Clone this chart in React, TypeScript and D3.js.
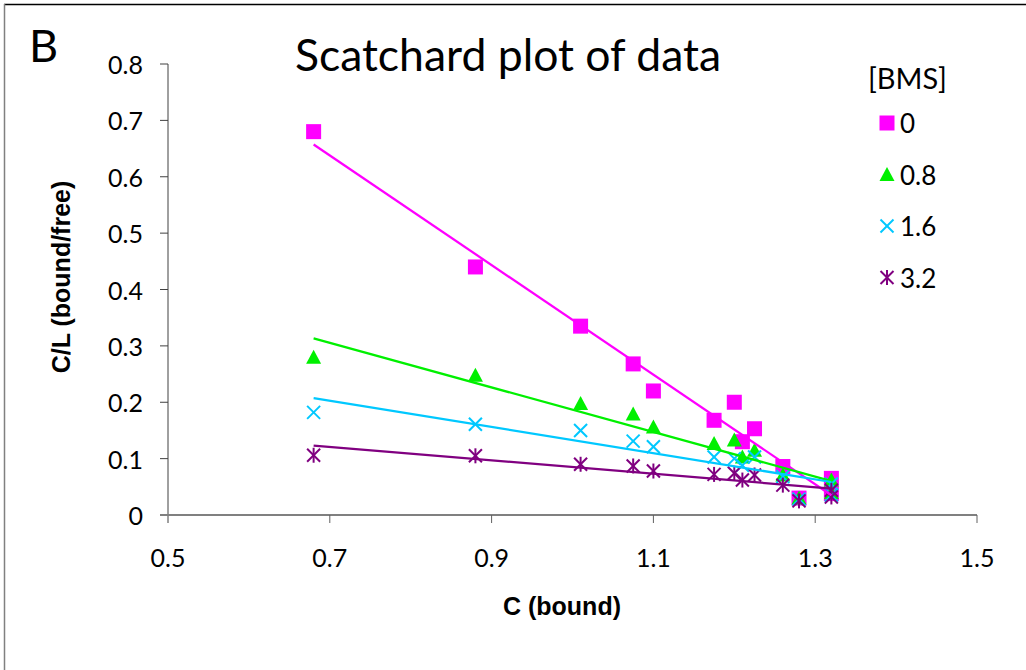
import React from "react";
import * as d3 from "d3";

const xValues = [0.68, 0.88, 1.01, 1.075, 1.1, 1.175, 1.2, 1.21, 1.225, 1.26, 1.28, 1.32, 1.32];
const bms0 = [0.68, 0.44, 0.335, 0.268, 0.22, 0.168, 0.2, 0.13, 0.153, 0.086, 0.03, 0.065, 0.038];
const bms08 = [0.28, 0.248, 0.198, 0.179, 0.156, 0.127, 0.133, 0.103, 0.115, 0.071, 0.03, 0.062, 0.04];
const bms16 = [0.182, 0.161, 0.15, 0.131, 0.121, 0.103, 0.1, 0.088, 0.103, 0.068, 0.028, 0.055, 0.035];
const bms32 = [0.106, 0.105, 0.09, 0.087, 0.078, 0.072, 0.074, 0.062, 0.071, 0.053, 0.025, 0.044, 0.032];

const seriesNames = ["0", "0.8", "1.6", "3.2"];
const seriesColors = ["#FF00FF", "#00F000", "#00C8FF", "#800080"];
const seriesShapes = ["square", "triangle", "x", "star"];
const seriesValues = [bms0, bms08, bms16, bms32];

const xTicks = [0.5, 0.7, 0.9, 1.1, 1.3, 1.5];
const yTicks = [0, 0.1, 0.2, 0.3, 0.4, 0.5, 0.6, 0.7, 0.8];

const W = 1026;
const H = 670;

const x = d3.scaleLinear().domain([0.5, 1.5]).range([168, 977]);
const y = d3.scaleLinear().domain([0, 0.8]).range([515, 64]);

function regression(xs: number[], ys: number[]) {
  const mx = d3.mean(xs) as number;
  const my = d3.mean(ys) as number;
  let num = 0;
  let den = 0;
  xs.forEach((xv, i) => {
    num += (xv - mx) * (ys[i] - my);
    den += (xv - mx) * (xv - mx);
  });
  const slope = num / den;
  const intercept = my - slope * mx;
  return (v: number) => intercept + slope * v;
}

function Marker({ shape, color, cx, cy }: { shape: string; color: string; cx: number; cy: number }) {
  if (shape === "square") {
    return <rect x={cx - 7.5} y={cy - 7.5} width={15} height={15} fill={color} />;
  }
  if (shape === "triangle") {
    const path = d3.path();
    path.moveTo(cx, cy - 7.5);
    path.lineTo(cx + 7.5, cy + 6.5);
    path.lineTo(cx - 7.5, cy + 6.5);
    path.closePath();
    return <path d={path.toString()} fill={color} />;
  }
  const r = 6.5;
  if (shape === "x") {
    return (
      <g stroke={color} strokeWidth={2}>
        <line x1={cx - r} y1={cy - r} x2={cx + r} y2={cy + r} />
        <line x1={cx - r} y1={cy + r} x2={cx + r} y2={cy - r} />
      </g>
    );
  }
  return (
    <g stroke={color} strokeWidth={2}>
      <line x1={cx - r} y1={cy - r} x2={cx + r} y2={cy + r} />
      <line x1={cx - r} y1={cy + r} x2={cx + r} y2={cy - r} />
      <line x1={cx} y1={cy - r - 1} x2={cx} y2={cy + r + 1} />
    </g>
  );
}

export default function App() {
  const tickFont = "Lato, 'Open Sans', sans-serif";
  const xMin = d3.min(xValues) as number;
  const xMax = d3.max(xValues) as number;

  return (
    <svg
      width={W}
      height={H}
      viewBox={`0 0 ${W} ${H}`}
      style={{ position: "absolute", left: 0, top: 0, display: "block", background: "#fff" }}
    >
      <rect x={0} y={0} width={W} height={H} fill="#fff" />
      {/* outer frame */}
      <line x1={4} y1={4.5} x2={W} y2={4.5} stroke="#000" strokeWidth={1.5} />
      <line x1={4.5} y1={4} x2={4.5} y2={H} stroke="#808080" strokeWidth={1.5} />

      {/* panel letter */}
      <text x={29} y={62} fontFamily={tickFont} fontSize={45} fill="#000">
        B
      </text>

      {/* title */}
      <text x={508} y={71} textAnchor="middle" fontFamily={tickFont} fontSize={44.5} fill="#000">
        Scatchard plot of data
      </text>

      {/* y axis */}
      <line x1={168} y1={y(0.8)} x2={168} y2={523} stroke="#404040" strokeWidth={1} />
      {yTicks.map((t) => (
        <g key={"yt" + t}>
          <line x1={160} y1={y(t)} x2={168} y2={y(t)} stroke="#404040" strokeWidth={1} />
          <text
            x={143}
            y={y(t)}
            textAnchor="end"
            dominantBaseline="central"
            fontFamily={tickFont}
            fontSize={25}
            fill="#000"
          >
            {t === 0 ? "0" : t.toFixed(1)}
          </text>
        </g>
      ))}

      {/* x axis */}
      <line x1={160} y1={y(0)} x2={x(1.5)} y2={y(0)} stroke="#808080" strokeWidth={2} />
      {xTicks.map((t) => (
        <g key={"xt" + t}>
          {t > 0.5 && <line x1={x(t)} y1={y(0)} x2={x(t)} y2={523} stroke="#606060" strokeWidth={1} />}
          <text
            x={x(t)}
            y={557}
            textAnchor="middle"
            dominantBaseline="central"
            fontFamily={tickFont}
            fontSize={25}
            fill="#000"
          >
            {t.toFixed(1)}
          </text>
        </g>
      ))}

      {/* axis titles */}
      <text
        x={562}
        y={615}
        textAnchor="middle"
        fontFamily="'Liberation Sans', Arial, sans-serif"
        fontWeight="bold"
        fontSize={25}
        fill="#000"
      >
        C (bound)
      </text>
      <text
        transform="translate(70,277) rotate(-90)"
        textAnchor="middle"
        fontFamily="'Liberation Sans', Arial, sans-serif"
        fontWeight="bold"
        fontSize={25}
        fill="#000"
      >
        C/L (bound/free)
      </text>

      {/* markers */}
      {seriesValues.map((vals, si) => (
        <g key={"s" + si}>
          {vals.map((v, i) => (
            <Marker
              key={i}
              shape={seriesShapes[si]}
              color={seriesColors[si]}
              cx={x(xValues[i])}
              cy={y(v)}
            />
          ))}
        </g>
      ))}

      {/* trend lines */}
      {seriesValues.map((vals, si) => {
        const f = regression(xValues, vals);
        const pts = [xMin, xMax];
        const gen = d3
          .line<number>()
          .x((d) => x(d))
          .y((d) => y(f(d)));
        return (
          <path
            key={"tl" + si}
            d={gen(pts) || ""}
            fill="none"
            stroke={seriesColors[si]}
            strokeWidth={2.25}
          />
        );
      })}

      {/* legend */}
      <text x={868} y={89} fontFamily={tickFont} fontSize={29} fill="#000">
        [BMS]
      </text>
      {seriesNames.map((n, i) => {
        const cy = 123 + i * 51.5;
        return (
          <g key={"lg" + i}>
            <Marker shape={seriesShapes[i]} color={seriesColors[i]} cx={887} cy={cy} />
            <text x={900} y={cy} dominantBaseline="central" fontFamily={tickFont} fontSize={26} fill="#000">
              {n}
            </text>
          </g>
        );
      })}
    </svg>
  );
}
